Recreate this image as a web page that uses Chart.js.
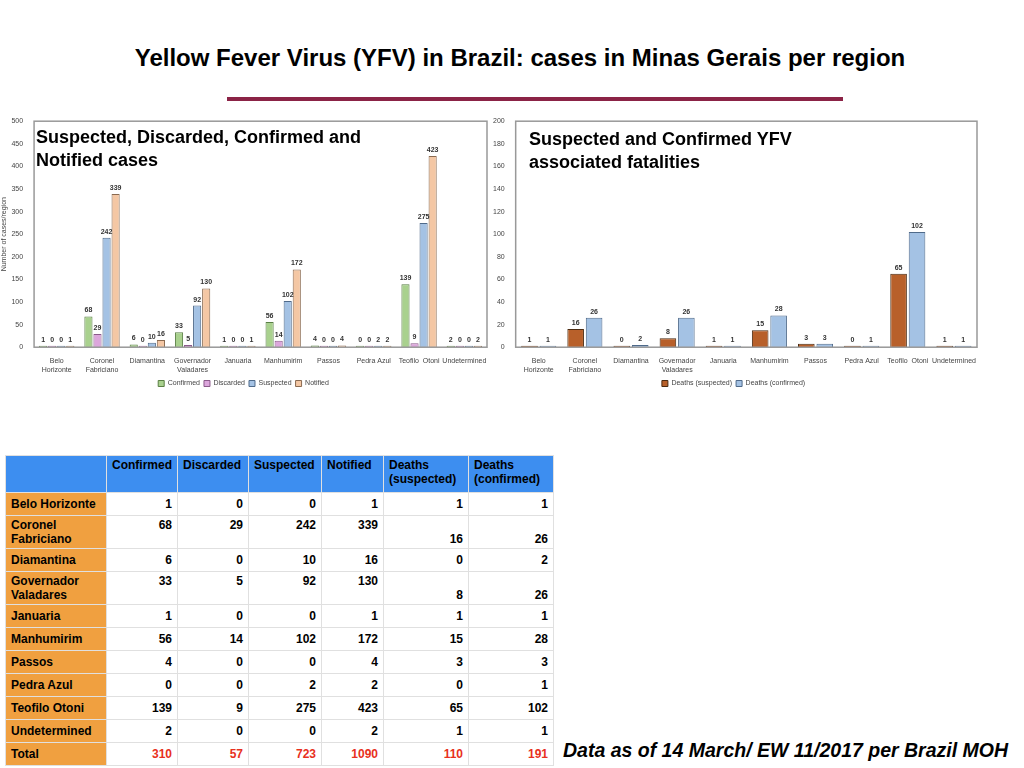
<!DOCTYPE html>
<html>
<head>
<meta charset="utf-8">
<script src="https://cdn.jsdelivr.net/npm/chart.js@4"></script>
<style>
  body { margin: 0; width: 1024px; height: 768px; background: #fff; font-family: "Liberation Sans", Arial, sans-serif; position: relative; overflow: hidden; }
  #title { position: absolute; top: 44px; left: 0; width: 1040px; text-align: center; font-size: 24px; font-weight: bold; }
  #rule { position: absolute; top: 97px; left: 227px; width: 616px; height: 4px; background: #8b2346; }
  canvas { position: absolute; }
  .ctitle { position: absolute; font-size: 18px; font-weight: bold; line-height: 23px; }
  table { position: absolute; left: 5px; top: 455px; border-collapse: collapse; font-size: 12px; font-weight: bold; }
  td, th { border: 1px solid #e0e0e0; padding: 2px 5px; }
  th { background: #3d8ef0; text-align: left; vertical-align: top; font-weight: bold; height: 32px; }
  td { text-align: right; height: 18px; }
  td.r { background: #f0a040; text-align: left; }
  tr.tot td { color: #e83020; }
  tr.tot td.r { color: #000; }
  #note { position: absolute; left: 563px; top: 739px; font-size: 19.5px; font-weight: bold; font-style: italic; }
</style>
</head>
<body>
<div id="title">Yellow Fever Virus (YFV) in Brazil: cases in Minas Gerais per region</div>
<div id="rule"></div>
<canvas id="casesChart" width="495" height="283" style="left:0;top:114px"></canvas>
<canvas id="deathsChart" width="495" height="283" style="left:490px;top:114px"></canvas>
<div class="ctitle" style="left:36px;top:126px">Suspected, Discarded, Confirmed and<br>Notified cases</div>
<div class="ctitle" style="left:529px;top:128px">Suspected and Confirmed YFV<br>associated fatalities</div>
<table id="tbl"></table>
<div id="note">Data as of 14 March/ EW 11/2017 per Brazil MOH</div>
<script>
const regions = ['Belo Horizonte', 'Coronel Fabriciano', 'Diamantina', 'Governador Valadares', 'Januaria', 'Manhumirim', 'Passos', 'Pedra Azul', 'Teofilo Otoni', 'Undetermined'];
const axisLabels = [['Belo', 'Horizonte'], ['Coronel', 'Fabriciano'], 'Diamantina', ['Governador', 'Valadares'], 'Januaria', 'Manhumirim', 'Passos', 'Pedra Azul', 'Teofilo  Otoni', 'Undetermined'];
const confirmed = [1, 68, 6, 33, 1, 56, 4, 0, 139, 2];
const discarded = [0, 29, 0, 5, 0, 14, 0, 0, 9, 0];
const suspected = [0, 242, 10, 92, 0, 102, 0, 2, 275, 0];
const notified = [1, 339, 16, 130, 1, 172, 4, 2, 423, 2];
const deathsSuspected = [1, 16, 0, 8, 1, 15, 3, 0, 65, 1];
const deathsConfirmed = [1, 26, 2, 26, 1, 28, 3, 1, 102, 1];

// values above bars + grey frame round the plot area
const barLabels = {
  id: 'barLabels',
  afterDatasetsDraw(chart) {
    const ctx = chart.ctx;
    const a = chart.chartArea;
    ctx.save();
    ctx.strokeStyle = '#999';
    ctx.lineWidth = 1.5;
    ctx.strokeRect(a.left, a.top, a.right - a.left, a.bottom - a.top);
    ctx.font = 'bold 7px "Liberation Sans", Arial';
    ctx.fillStyle = '#333';
    ctx.textAlign = 'center';
    chart.data.datasets.forEach((ds, i) => {
      chart.getDatasetMeta(i).data.forEach((bar, j) => {
        ctx.fillText(ds.data[j], bar.x, bar.y - 6);
      });
    });
    ctx.restore();
  }
};

function makeDs(label, data, fill, border) {
  return { label, data, backgroundColor: fill, borderColor: border, borderWidth: 1, minBarLength: 1.5 };
}

function options(max, step) {
  return {
    responsive: false,
    animation: false,
    layout: { padding: { top: 4, right: 8 } },
    plugins: {
      legend: { position: 'bottom', labels: { boxWidth: 6, boxHeight: 6, font: { size: 7 }, color: '#444', padding: 4 } },
      tooltip: { enabled: false }
    },
    scales: {
      x: { grid: { display: false }, ticks: { font: { size: 7 }, color: '#444', maxRotation: 0, autoSkip: false, padding: 2 }, categoryPercentage: 0.9, barPercentage: 1 },
      y: { min: 0, max, grid: { display: false }, border: { display: false }, ticks: { stepSize: step, font: { size: 7 }, color: '#444' } }
    }
  };
}

const casesOpts = options(500, 50);
casesOpts.scales.y.title = { display: true, text: 'Number of cases/region', font: { size: 7 }, color: '#444', padding: 0 };
new Chart(document.getElementById('casesChart'), {
  type: 'bar',
  data: {
    labels: axisLabels,
    datasets: [
      makeDs('Confirmed', confirmed, '#a9d18e', '#5a7f45'),
      makeDs('Discarded', discarded, '#dca6dc', '#8a5a8a'),
      makeDs('Suspected', suspected, '#a4c2e4', '#4f6a8a'),
      makeDs('Notified', notified, '#f4c7a4', '#8a6a50')
    ]
  },
  options: casesOpts,
  plugins: [barLabels]
});

new Chart(document.getElementById('deathsChart'), {
  type: 'bar',
  data: {
    labels: axisLabels,
    datasets: [
      makeDs('Deaths (suspected)', deathsSuspected, '#b8602a', '#4a2a10'),
      makeDs('Deaths (confirmed)', deathsConfirmed, '#a4c2e4', '#4f6a8a')
    ]
  },
  options: options(200, 20),
  plugins: [barLabels]
});

// table built from the same arrays
const sum = a => a.reduce((s, v) => s + v, 0);
const tblLabels = ['Belo Horizonte', 'Coronel<br>Fabriciano', 'Diamantina', 'Governador<br>Valadares', 'Januaria', 'Manhumirim', 'Passos', 'Pedra Azul', 'Teofilo Otoni', 'Undetermined'];
let html = '<tr><th style="width:90px"></th><th style="width:59px">Confirmed</th><th style="width:60px">Discarded</th><th style="width:62px">Suspected</th><th style="width:51px">Notified</th><th style="width:74px">Deaths<br>(suspected)</th><th style="width:74px">Deaths<br>(confirmed)</th></tr>';
regions.forEach((r, i) => {
  const two = tblLabels[i].includes('<br>');
  const top = two ? ' style="vertical-align:top"' : '';
  const bot = two ? ' style="vertical-align:bottom"' : '';
  html += `<tr><td class="r">${tblLabels[i]}</td><td${top}>${confirmed[i]}</td><td${top}>${discarded[i]}</td><td${top}>${suspected[i]}</td><td${top}>${notified[i]}</td><td${bot}>${deathsSuspected[i]}</td><td${bot}>${deathsConfirmed[i]}</td></tr>`;
});
html += `<tr class="tot"><td class="r">Total</td><td>${sum(confirmed)}</td><td>${sum(discarded)}</td><td>${sum(suspected)}</td><td>${sum(notified)}</td><td>${sum(deathsSuspected)}</td><td>${sum(deathsConfirmed)}</td></tr>`;
document.getElementById('tbl').innerHTML = html;
</script>
</body>
</html>
